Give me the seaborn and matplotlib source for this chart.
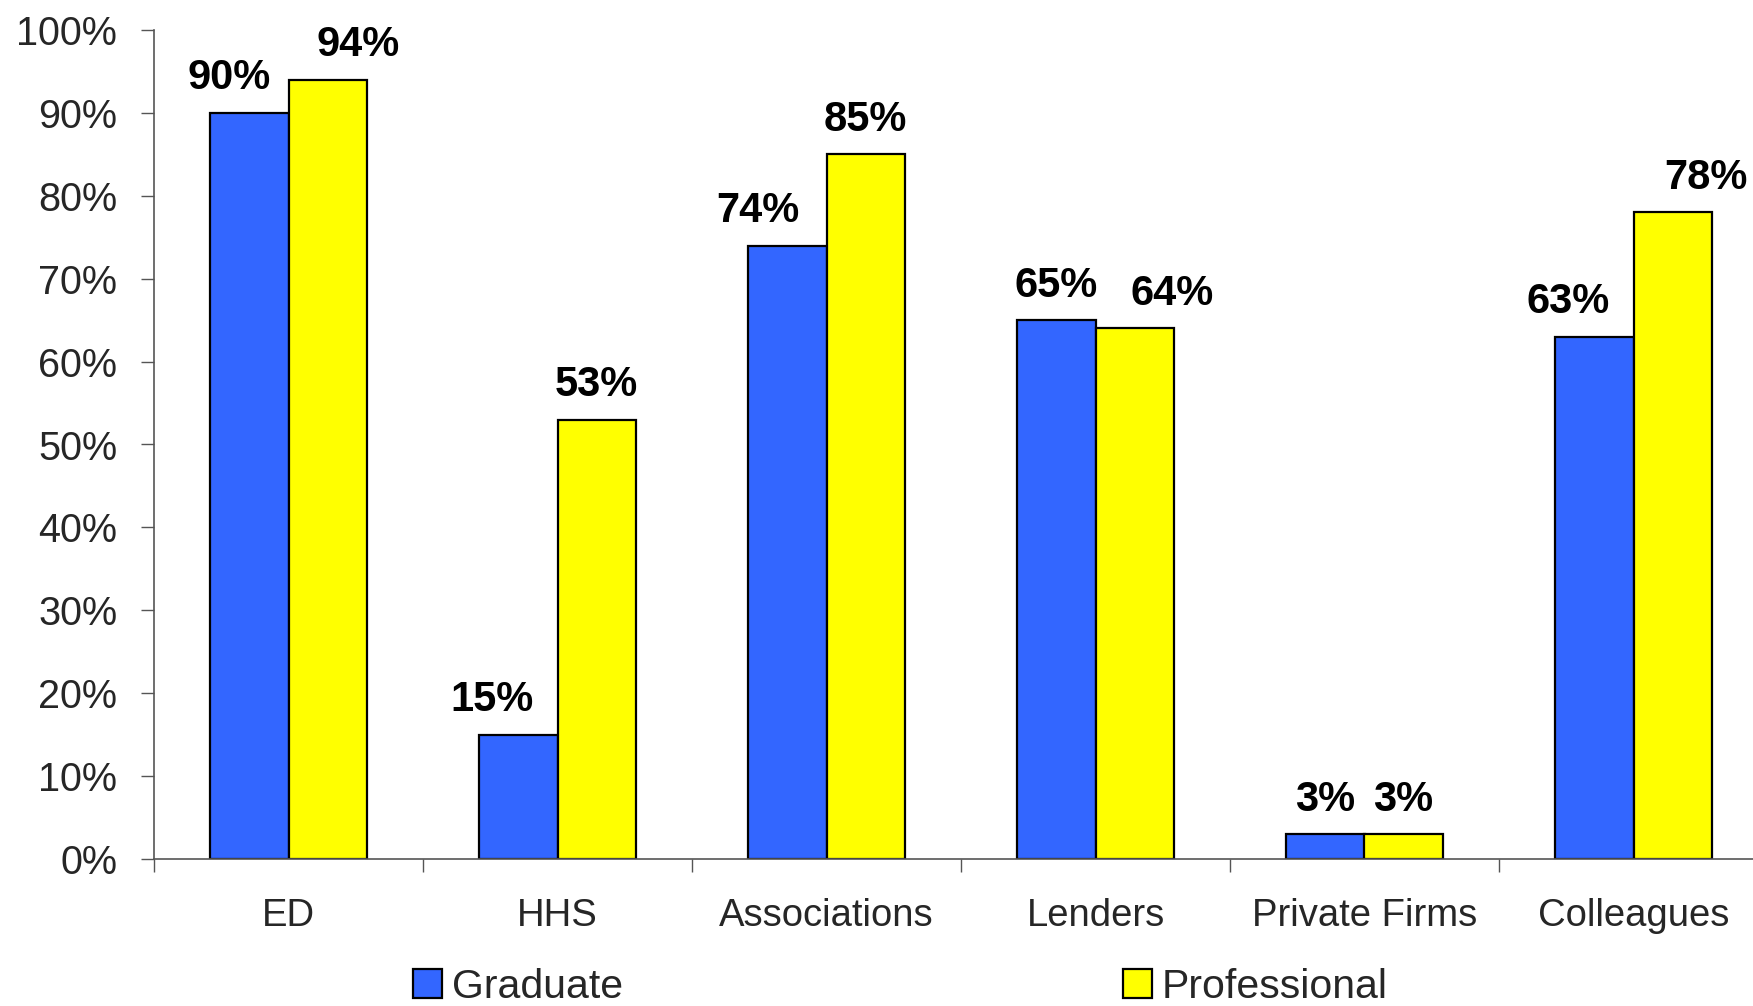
import numpy as np
import pandas as pd
import matplotlib
matplotlib.use("Agg")
import matplotlib.pyplot as plt
import seaborn as sns
from matplotlib.ticker import FixedLocator, PercentFormatter

# chart values
categories = ["ED", "HHS", "Associations", "Lenders", "Private Firms", "Colleagues"]
graduate = [90, 15, 74, 65, 3, 63]
professional = [94, 53, 85, 64, 3, 78]
series_names = ["Graduate", "Professional"]
y_ticks = [0, 10, 20, 30, 40, 50, 60, 70, 80, 90, 100]

# long table for seaborn
df = pd.DataFrame({
    "category": categories * 2,
    "group": [series_names[0]] * len(categories) + [series_names[1]] * len(categories),
    "value": graduate + professional,
})

sns.set_theme(style="ticks")
plt.rcParams["font.family"] = ["Liberation Sans", "DejaVu Sans"]

W, H = 1753, 1006
fig = plt.figure(figsize=(W / 100, H / 100), dpi=100)
# axes run a little past the right edge, as in the reference
ax = fig.add_axes([154 / W, 147 / H, 1614 / W, 829 / H])

sns.barplot(data=df, x="category", y="value", hue="group", order=categories,
            hue_order=series_names, palette=["#3366FF", "#FFFF00"], width=0.58,
            edgecolor="black", linewidth=1.6, saturation=1, legend=False, ax=ax)

# value labels, some nudged sideways like the original
nudges = [[-15, -19, -21, 0, 0, -19],
          [22, 0, 0, 27, 0, 24]]
for k, cont in enumerate(ax.containers):
    for i, bar in enumerate(cont):
        h = bar.get_height()
        ax.annotate(f"{h:.0f}%", (bar.get_x() + bar.get_width() / 2, h),
                    xytext=(nudges[k][i], 17), textcoords="offset points",
                    ha="center", va="baseline", fontsize=30, fontweight="bold",
                    color="black", annotation_clip=False)

ax.set_xlim(-0.5, 5.5)
ax.set_ylim(0, 100)
ax.set_yticks(y_ticks)
ax.yaxis.set_major_formatter(PercentFormatter(xmax=100, decimals=0))
ax.xaxis.set_minor_locator(FixedLocator(np.arange(-0.5, 6, 1)))
ax.tick_params(axis="x", which="major", length=0, pad=28, labelsize=27.5, bottom=True)
ax.tick_params(axis="x", which="minor", length=9.5, width=1, color="#555555", bottom=True)
ax.tick_params(axis="y", which="major", length=9.5, width=1, color="#555555",
               pad=17, labelsize=28.5, left=True)
ax.set_xlabel("")
ax.set_ylabel("")

for s in ["top", "right"]:
    ax.spines[s].set_visible(False)
for s in ["left", "bottom"]:
    ax.spines[s].set_color("#555555")
    ax.spines[s].set_linewidth(1.2)
ax.spines["bottom"].set_clip_on(False)

fig.legend(ax.containers, series_names, loc="center left",
           bbox_to_anchor=(413 / W, 19 / H), ncol=2, frameon=False,
           fontsize=29.5, handlelength=0.7, handleheight=0.7,
           handletextpad=0.25, columnspacing=12.2, borderpad=0, borderaxespad=0)

fig.savefig("out.png", dpi=100)
